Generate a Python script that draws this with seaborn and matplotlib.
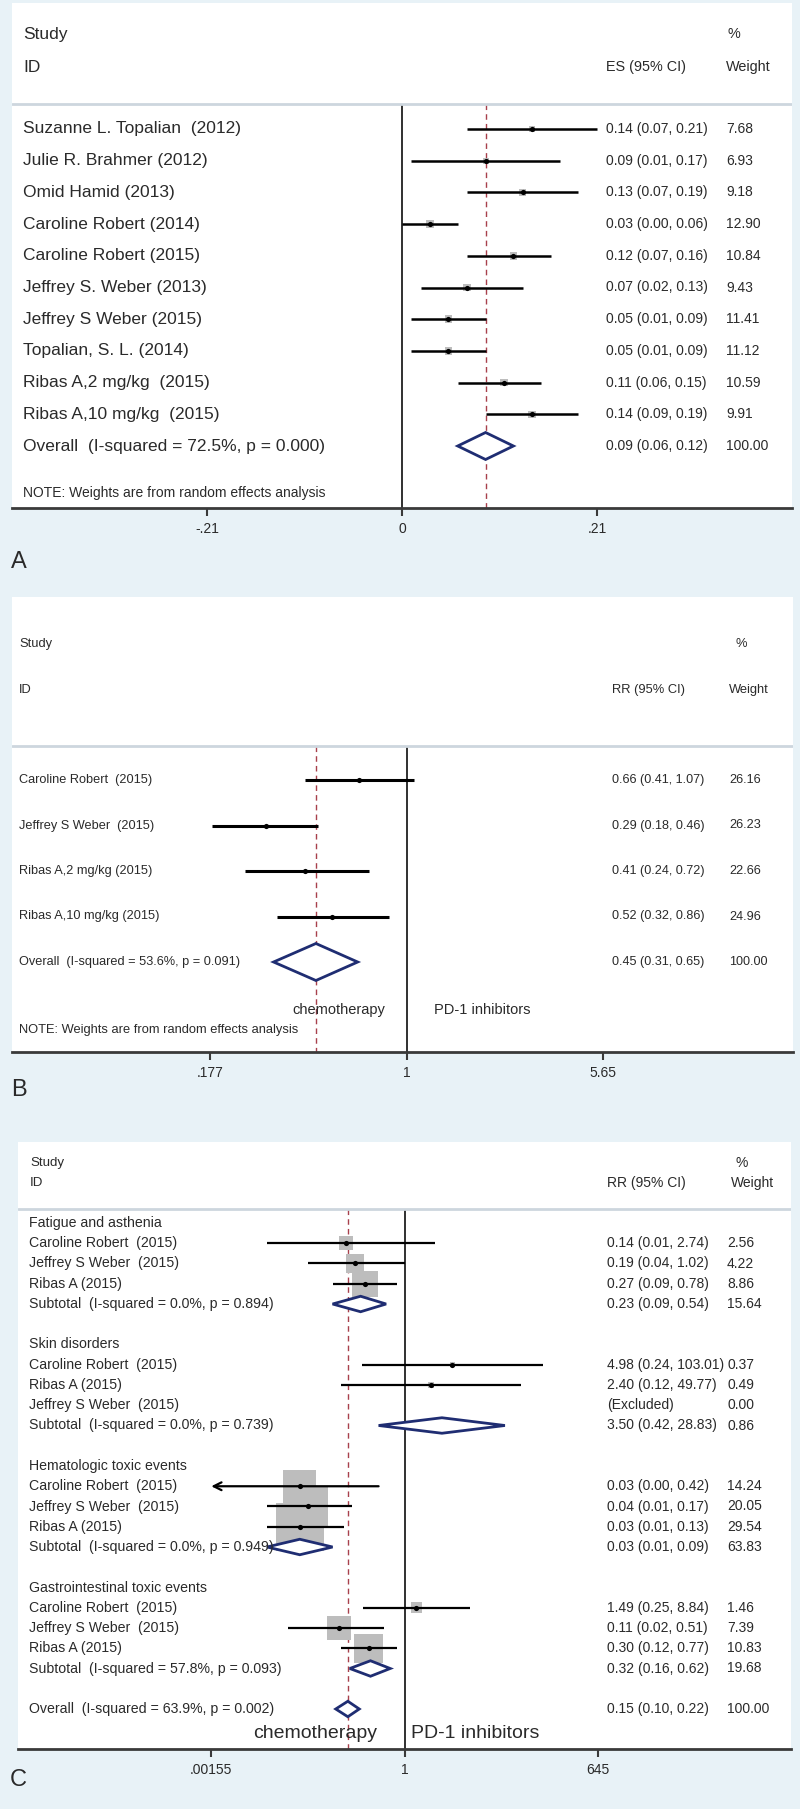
import numpy as np
import pandas as pd
import matplotlib
matplotlib.use('Agg')
import matplotlib.pyplot as plt
from matplotlib import font_manager
from matplotlib.ticker import NullLocator
import seaborn as sns

# ---- data -------------------------------------------------------------
a_names = ["Suzanne L. Topalian  (2012)", "Julie R. Brahmer (2012)", "Omid Hamid (2013)",
           "Caroline Robert (2014)", "Caroline Robert (2015)", "Jeffrey S. Weber (2013)",
           "Jeffrey S Weber (2015)", "Topalian, S. L. (2014)", "Ribas A,2 mg/kg  (2015)",
           "Ribas A,10 mg/kg  (2015)"]
a_es = [0.14, 0.09, 0.13, 0.03, 0.12, 0.07, 0.05, 0.05, 0.11, 0.14]
a_lo = [0.07, 0.01, 0.07, 0.00, 0.07, 0.02, 0.01, 0.01, 0.06, 0.09]
a_hi = [0.21, 0.17, 0.19, 0.06, 0.16, 0.13, 0.09, 0.09, 0.15, 0.19]
a_w = [7.68, 6.93, 9.18, 12.90, 10.84, 9.43, 11.41, 11.12, 10.59, 9.91]
a_overall = (0.09, 0.06, 0.12, 100.00)
a_overall_label = "Overall  (I-squared = 72.5%, p = 0.000)"
a_ticks = [-0.21, 0, 0.21]
a_ticklabels = ["-.21", "0", ".21"]

b_names = ["Caroline Robert  (2015)", "Jeffrey S Weber  (2015)",
           "Ribas A,2 mg/kg (2015)", "Ribas A,10 mg/kg (2015)"]
b_es = [0.66, 0.29, 0.41, 0.52]
b_lo = [0.41, 0.18, 0.24, 0.32]
b_hi = [1.07, 0.46, 0.72, 0.86]
b_w = [26.16, 26.23, 22.66, 24.96]
b_overall = (0.45, 0.31, 0.65, 100.00)
b_overall_label = "Overall  (I-squared = 53.6%, p = 0.091)"
b_ticks = [0.177, 1, 5.65]
b_ticklabels = [".177", "1", "5.65"]

c_groups = ["Fatigue and asthenia", "Skin disorders",
            "Hematologic toxic events", "Gastrointestinal toxic events"]
c_studies = [["Caroline Robert  (2015)", "Jeffrey S Weber  (2015)", "Ribas A (2015)"],
             ["Caroline Robert  (2015)", "Ribas A (2015)", "Jeffrey S Weber  (2015)"],
             ["Caroline Robert  (2015)", "Jeffrey S Weber  (2015)", "Ribas A (2015)"],
             ["Caroline Robert  (2015)", "Jeffrey S Weber  (2015)", "Ribas A (2015)"]]
c_es = [[0.14, 0.19, 0.27], [4.98, 2.40, np.nan], [0.03, 0.04, 0.03], [1.49, 0.11, 0.30]]
c_lo = [[0.01, 0.04, 0.09], [0.24, 0.12, np.nan], [0.00, 0.01, 0.01], [0.25, 0.02, 0.12]]
c_hi = [[2.74, 1.02, 0.78], [103.01, 49.77, np.nan], [0.42, 0.17, 0.13], [8.84, 0.51, 0.77]]
c_w = [[2.56, 4.22, 8.86], [0.37, 0.49, 0.00], [14.24, 20.05, 29.54], [1.46, 7.39, 10.83]]
c_sub = [(0.23, 0.09, 0.54, 15.64), (3.50, 0.42, 28.83, 0.86),
         (0.03, 0.01, 0.09, 63.83), (0.32, 0.16, 0.62, 19.68)]
c_sub_i2 = ["0.0%", "0.0%", "0.0%", "57.8%"]
c_sub_p = ["0.894", "0.739", "0.949", "0.093"]
c_overall = (0.15, 0.10, 0.22, 100.00)
c_overall_label = "Overall  (I-squared = 63.9%, p = 0.002)"
c_ticks = [0.00155, 1, 645]
c_ticklabels = [".00155", "1", "645"]

# ---- style ------------------------------------------------------------
sns.set_theme(style="white")
plt.rcParams['font.family'] = ['Liberation Sans', 'DejaVu Sans']

# the original uses a condensed face for most of the small text
try:
    font_manager.findfont('Liberation Sans Narrow', fallback_to_default=False)
    NARROW = ['Liberation Sans Narrow', 'Liberation Sans', 'DejaVu Sans']
    NSCALE = 1 / 0.82
except ValueError:
    NARROW = ['Liberation Sans', 'DejaVu Sans']
    NSCALE = 1.0

BG = '#e8f2f7'
TXT = '#2a2a2a'
AXC = '#3a3a3a'
HL = '#cdd6de'
RED = '#a8404c'
NAVY = '#1f2d72'
BOX = '#bdbdbd'

W, H = 800, 1809
fig = plt.figure(figsize=(W / 100, H / 100), dpi=100, facecolor=BG)


def px_axes(x0, y0, x1, y1):
    return fig.add_axes([x0 / W, 1 - y1 / H, (x1 - x0) / W, (y1 - y0) / H])


def ptext(x, y, s, size, narrow=False, **kw):
    if narrow:
        kw['family'] = NARROW
        size = size * NSCALE
    fig.text(x / W, 1 - y / H, s, fontsize=size, va='center', color=TXT, **kw)


def fmt_ci(es, lo, hi):
    if np.isnan(es):
        return "(Excluded)"
    return f"{es:.2f} ({lo:.2f}, {hi:.2f})"


def make_panel(L, overall_es, ticks, ticklabels):
    ax = px_axes(L['x0'], L['top'], L['x1'], L['axis'])
    ax.set_facecolor('white')
    ax.set_xscale(L['scale'])
    ax.set_xlim(*L['xlim'])
    ax.set_ylim(L['axis'], L['top'])
    for s in ['top', 'left', 'right']:
        ax.spines[s].set_visible(False)
    ax.spines['bottom'].set_color(AXC)
    ax.spines['bottom'].set_linewidth(2)
    ax.set_yticks([])
    ax.set_xticks(ticks)
    ax.set_xticklabels(ticklabels, fontsize=10, color=TXT)
    ax.xaxis.set_minor_locator(NullLocator())
    ax.tick_params(axis='x', bottom=True, direction='out', length=6, width=1.5,
                   color=AXC, pad=4)
    ax.grid(False)
    ax.axhline(L['hline'], color=HL, lw=2)
    ax.vlines(L['null'], L['hline'], L['axis'], color='#202020', lw=1.3, zorder=1)
    ax.vlines(overall_es, L['hline'], L['axis'], color=RED, lw=1,
              linestyles=(0, (4, 3)), zorder=1)
    return ax


def draw_rows(ax, y, es, lo, hi, w, lw, box_k, clip=None):
    es = np.asarray(es, float); lo = np.asarray(lo, float); hi = np.asarray(hi, float)
    w = np.asarray(w, float); y = np.asarray(y, float)
    ok = ~np.isnan(es)
    if box_k > 0:
        side = box_k * np.sqrt(w[ok]) * 0.72
        ax.scatter(es[ok], y[ok], marker='s', s=side ** 2, color=BOX, linewidths=0, zorder=2)
    for yi, e, l, h in zip(y[ok], es[ok], lo[ok], hi[ok]):
        if clip is not None and l < clip:
            ax.annotate('', xy=(clip, yi), xytext=(h, yi),
                        arrowprops=dict(arrowstyle='->', lw=lw, color='black',
                                        mutation_scale=14, shrinkA=0, shrinkB=0), zorder=3)
        else:
            ax.hlines(yi, l, h, color='black', lw=lw, zorder=3)
    sns.scatterplot(x=es[ok], y=y[ok], ax=ax, color='black', s=14, linewidth=0,
                    zorder=4, legend=False)


def diamond(ax, y, es, lo, hi, h):
    ax.fill([lo, es, hi, es], [y, y - h / 2, y, y + h / 2], facecolor='white',
            edgecolor=NAVY, lw=2, zorder=5)


# ---- panel A ----------------------------------------------------------
LA = dict(x0=12, x1=792, top=3, axis=508, hline=104, scale='linear',
          xlim=(-0.42, 0.42), null=0, row0=129, sp=31.7)
ax = make_panel(LA, a_overall[0], a_ticks, a_ticklabels)
ya = LA['row0'] + LA['sp'] * np.arange(len(a_names))
draw_rows(ax, ya, a_es, a_lo, a_hi, a_w, 1.8, 2.3)
yo = LA['row0'] + LA['sp'] * len(a_names)
diamond(ax, yo, *a_overall[:3], 27)
ptext(23, 34, "Study", 12.5)
ptext(23, 67, "ID", 12.5)
ptext(728, 34, "%", 10.4, narrow=True)
ptext(606, 67, "ES (95% CI)", 10.4, narrow=True)
ptext(726, 67, "Weight", 10.4, narrow=True)
for yi, n, e, l, h, w in zip(ya, a_names, a_es, a_lo, a_hi, a_w):
    ptext(23, yi, n, 12.5)
    ptext(606, yi, fmt_ci(e, l, h), 10, narrow=True)
    ptext(726, yi, f"{w:.2f}", 10, narrow=True)
ptext(23, yo, a_overall_label, 12.5)
ptext(606, yo, fmt_ci(*a_overall[:3]), 10, narrow=True)
ptext(726, yo, f"{a_overall[3]:.2f}", 10, narrow=True)
ptext(23, 493, "NOTE: Weights are from random effects analysis", 10, narrow=True)
ptext(11, 562, "A", 17)

# ---- panel B ----------------------------------------------------------
LB = dict(x0=12, x1=793, top=597, axis=1052, hline=746, scale='log',
          xlim=(0.031, 30.0), null=1, row0=780, sp=45.5)
ax = make_panel(LB, b_overall[0], b_ticks, b_ticklabels)
yb = LB['row0'] + LB['sp'] * np.arange(len(b_names))
draw_rows(ax, yb, b_es, b_lo, b_hi, b_w, 2.2, 0)
yo = LB['row0'] + LB['sp'] * len(b_names)
diamond(ax, yo, *b_overall[:3], 37)
ptext(19, 644, "Study", 9.3, narrow=True)
ptext(19, 690, "ID", 9.3, narrow=True)
ptext(735, 644, "%", 9.3, narrow=True)
ptext(612, 690, "RR (95% CI)", 9.3, narrow=True)
ptext(729, 690, "Weight", 9.3, narrow=True)
for yi, n, e, l, h, w in zip(yb, b_names, b_es, b_lo, b_hi, b_w):
    ptext(19, yi, n, 9.2, narrow=True)
    ptext(612, yi, fmt_ci(e, l, h), 9.1, narrow=True)
    ptext(729, yi, f"{w:.2f}", 9.1, narrow=True)
ptext(19, yo, b_overall_label, 9.2, narrow=True)
ptext(612, yo, fmt_ci(*b_overall[:3]), 9.1, narrow=True)
ptext(729, yo, f"{b_overall[3]:.2f}", 9.1, narrow=True)
ptext(385, 1010, "chemotherapy", 10.5, ha='right')
ptext(434, 1010, "PD-1 inhibitors", 10.5)
ptext(19, 1030, "NOTE: Weights are from random effects analysis", 9.3, narrow=True)
ptext(11, 1090, "B", 17)

# ---- panel C ----------------------------------------------------------
rows = []
for g, studies, es, lo, hi, w, sub, i2, p in zip(c_groups, c_studies, c_es, c_lo, c_hi,
                                                  c_w, c_sub, c_sub_i2, c_sub_p):
    rows.append(dict(label=g, kind='group'))
    for s, e, l, h, ww in zip(studies, es, lo, hi, w):
        rows.append(dict(label=s, kind='study', es=e, lo=l, hi=h, w=ww))
    rows.append(dict(label=f"Subtotal  (I-squared = {i2}, p = {p})", kind='sub',
                     es=sub[0], lo=sub[1], hi=sub[2], w=sub[3]))
    rows.append(dict(label='', kind='blank'))
rows.append(dict(label=c_overall_label, kind='sub', es=c_overall[0], lo=c_overall[1],
                 hi=c_overall[2], w=c_overall[3]))
dc = pd.DataFrame(rows)

LC = dict(x0=18, x1=791, top=1142, axis=1749, hline=1209, scale='log',
          xlim=(c_ticks[0] ** 2, c_ticks[-1] ** 2), null=1, row0=1223, sp=20.25)
ax = make_panel(LC, c_overall[0], c_ticks, c_ticklabels)
dc['y'] = LC['row0'] + LC['sp'] * np.arange(len(dc))
st = dc[dc.kind == 'study']
draw_rows(ax, st.y, st.es, st.lo, st.hi, st.w, 1.6, 8.8, clip=c_ticks[0])
for _, r in dc[dc.kind == 'sub'].iterrows():
    diamond(ax, r.y, r.es, r.lo, r.hi, 15.5)
ptext(30, 1163, "Study", 9.6, narrow=True)
ptext(30, 1183, "ID", 9.6, narrow=True)
ptext(735, 1163, "%", 10, narrow=True)
ptext(607, 1183, "RR (95% CI)", 10, narrow=True)
ptext(731, 1183, "Weight", 10, narrow=True)
for _, r in dc.iterrows():
    if r.kind == 'blank':
        continue
    ptext(29, r.y, r.label, 10.2, narrow=True)
    if r.kind in ('study', 'sub'):
        ptext(607, r.y, fmt_ci(r.es, r.lo, r.hi), 10, narrow=True)
        ptext(727, r.y, f"{r.w:.2f}", 10, narrow=True)
ptext(377, 1733, "chemotherapy", 14, ha='right')
ptext(411, 1733, "PD-1 inhibitors", 14)
ptext(10, 1780, "C", 17)

fig.savefig('out.png', dpi=100, facecolor=BG)
